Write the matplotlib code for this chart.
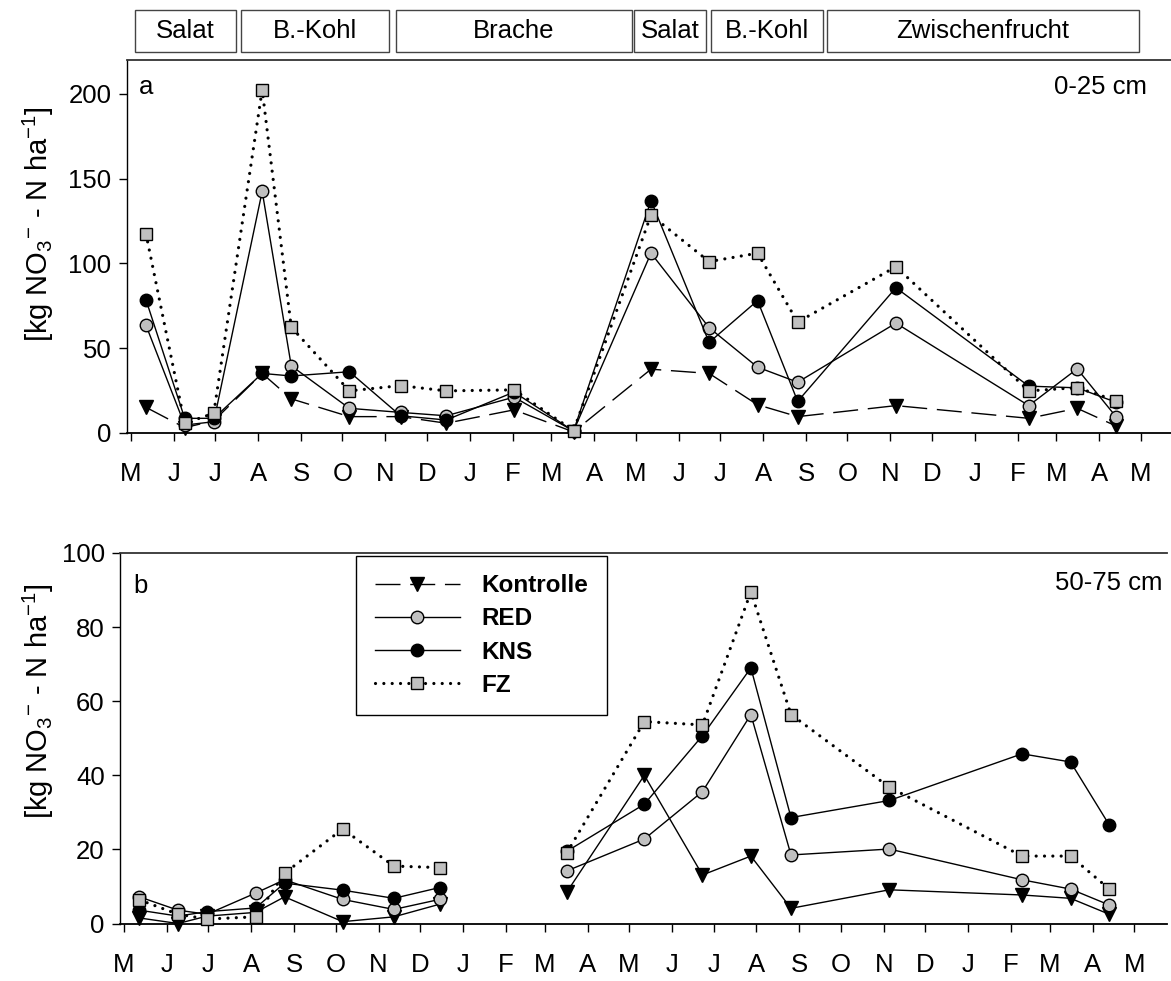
import numpy as np
import matplotlib
matplotlib.use("Agg")
import matplotlib.pyplot as plt
import matplotlib.dates as mdates
from matplotlib.lines import Line2D
from matplotlib.patches import Rectangle
from matplotlib.transforms import blended_transform_factory
import datetime as dt

plt.rcParams['font.family'] = ['Liberation Sans', 'DejaVu Sans']
plt.rcParams['mathtext.fontset'] = 'custom'
plt.rcParams['mathtext.rm'] = 'Liberation Sans'
plt.rcParams['mathtext.it'] = 'Liberation Sans'
plt.rcParams['mathtext.bf'] = 'Liberation Sans:bold'

# ---------------- data ----------------
sample_dates = ["2000-05-12", "2000-06-09", "2000-06-30", "2000-08-04", "2000-08-25",
                "2000-10-06", "2000-11-12", "2000-12-15", "2001-02-02", "2001-03-17",
                "2001-05-12", "2001-06-23", "2001-07-28", "2001-08-26", "2001-11-05",
                "2002-02-09", "2002-03-16", "2002-04-13"]

# Panel a: 0-25 cm
a_kontrolle = [15, 3, 7, 35, 20, 9.5, 9.5, 5.6, 13.5, 0.5, 37.5, 35, 16.5, 9.5, 16, 8.5, 14.4, 4]
a_red       = [63.5, 4.5, 6.5, 142.5, 39.5, 14.4, 12, 10, 21, 1, 106, 62, 38.7, 29.8, 64.7, 16, 37.7, 9.5]
a_kns       = [78.5, 8.5, 8.5, 35, 33.5, 36, 10, 7.5, 24, 1, 137, 53.3, 78, 18.5, 85.6, 27.5, 26.5, 18]
a_fz        = [117.5, 5.5, 11.5, 202.5, 62.3, 24.7, 27.8, 24.7, 25.3, 1.2, 128.5, 101, 106, 65.3, 98, 24.7, 26.6, 19]

# Panel b: 50-75 cm (no sample in Feb of first winter)
nan = np.nan
b_kontrolle = [1.5, 0, 2, 3, 7.2, 0.5, 1.8, 5.2, nan, 8.5, 40, 13.1, 18.2, 4.1, 9.1, 7.7, 6.8, 2.5]
b_red       = [7.2, 3.6, 2.5, 8.2, 11.8, 6.5, 3.8, 6.5, nan, 14.2, 22.8, 35.6, 56.4, 18.5, 20.1, 11.8, 9.3, 5]
b_kns       = [3.6, 2, 3.2, 4.2, 10.9, 9, 6.8, 9.7, nan, 19.5, 32.2, 50.7, 69, 28.6, 33.2, 45.8, 43.6, 26.6]
b_fz        = [6.4, 2.5, 1.2, 1.8, 13.6, 25.5, 15.5, 15.1, nan, 19.1, 54.5, 53.6, 89.5, 56.4, 36.8, 18.2, 18.2, 9.3]

series_names = ["Kontrolle", "RED", "KNS", "FZ"]

crop_names  = ["Salat", "B.-Kohl", "Brache", "Salat", "B.-Kohl", "Zwischenfrucht"]
crop_starts = ["2000-05-04", "2000-07-20", "2000-11-09", "2001-04-30", "2001-06-24", "2001-09-16"]
crop_ends   = ["2000-07-16", "2000-11-04", "2001-04-28", "2001-06-21", "2001-09-13", "2002-04-30"]

month_letters = ["J", "F", "M", "A", "M", "J", "J", "A", "S", "O", "N", "D"]

a_yticks = [0, 50, 100, 150, 200]
b_yticks = [0, 20, 40, 60, 80, 100]

ylabel = r"[kg NO$_3$$^{-}$ - N ha$^{-1}$]"

# ---------------- helpers ----------------
def to_dates(lst):
    return [dt.datetime.strptime(s, "%Y-%m-%d") for s in lst]

dates = to_dates(sample_dates)
xlim = (dt.datetime(2000, 4, 28), dt.datetime(2002, 5, 25))

FS = 18.5
gray = "#c0c0c0"
dash_style = (0, (18, 7))
dot_style = (0, (0.01, 2.6))

def style_axes(ax, ylim, yticks):
    ax.set_xlim(*xlim)
    ax.set_ylim(*ylim)
    ax.set_yticks(yticks)
    ax.xaxis.set_major_locator(mdates.MonthLocator())
    ax.xaxis.set_major_formatter(plt.FuncFormatter(
        lambda v, p: month_letters[mdates.num2date(v).month - 1]))
    ax.tick_params(axis='x', direction='out', length=6, width=1, labelsize=FS, pad=15)
    ax.tick_params(axis='y', direction='out', length=6, width=1, labelsize=FS, pad=5)
    ax.spines['right'].set_visible(False)
    ax.spines['top'].set_linewidth(1.3)
    ax.spines['top'].set_color('#333333')
    ax.spines['left'].set_linewidth(1)
    ax.spines['bottom'].set_linewidth(1.3)
    ax.set_ylabel(ylabel, fontsize=21)

def plot_series(ax, kon, red, kns, fz, kon_ls):
    ax.plot(dates, kon, linestyle=kon_ls, color='black', lw=1, marker='v', ms=10,
            mfc='black', mec='black', clip_on=False, zorder=3)
    ax.plot(dates, red, linestyle='-', color='black', lw=1, marker='o', ms=9,
            mfc=gray, mec='black', mew=1, clip_on=False, zorder=4)
    ax.plot(dates, kns, linestyle='-', color='black', lw=1, marker='o', ms=9,
            mfc='black', mec='black', clip_on=False, zorder=5)
    ax.plot(dates, fz, linestyle=dot_style, color='black', lw=2.3, dash_capstyle='round',
            marker='s', ms=8.5, mfc=gray, mec='black', mew=1, clip_on=False, zorder=6)

# ---------------- figure ----------------
fig = plt.figure(figsize=(11.71, 9.81), dpi=100)
ax1 = fig.add_axes([0.1081, 0.5589, 0.8945, 0.3799])
ax2 = fig.add_axes([0.1024, 0.0586, 0.8945, 0.3777])

plot_series(ax1, a_kontrolle, a_red, a_kns, a_fz, dash_style)
plot_series(ax2, b_kontrolle, b_red, b_kns, b_fz, '-')

style_axes(ax1, (0, 220), a_yticks)
style_axes(ax2, (0, 100), b_yticks)
ax1.yaxis.set_label_coords(-0.0674, 0.56)
ax2.yaxis.set_label_coords(-0.061, 0.60)

ax1.text(0.0118, 0.9276, "a", transform=ax1.transAxes, fontsize=FS, va='center', ha='left')
ax1.text(0.9742, 0.9276, "0-25 cm", transform=ax1.transAxes, fontsize=FS, va='center', ha='right')
ax2.text(0.0125, 0.911, "b", transform=ax2.transAxes, fontsize=FS, va='center', ha='left')
ax2.text(0.995, 0.919, "50-75 cm", transform=ax2.transAxes, fontsize=FS, va='center', ha='right')

# crop period boxes above panel a
trans = blended_transform_factory(ax1.transData, fig.transFigure)
y0 = (981 - 52) / 981
h = 42 / 981
for name, s, e in zip(crop_names, to_dates(crop_starts), to_dates(crop_ends)):
    x0 = mdates.date2num(s)
    x1 = mdates.date2num(e)
    fig.patches.append(Rectangle((x0, y0), x1 - x0, h, transform=trans, fill=False,
                                 edgecolor='#444444', lw=1))
    t = fig.text(0, 0, name, fontsize=FS, ha='center', va='center')
    t.set_transform(trans)
    t.set_position(((x0 + x1) / 2, y0 + h / 2))

# legend in panel b
handles = [
    Line2D([], [], linestyle=dash_style, color='black', lw=1, marker='v', ms=10, mfc='black', mec='black'),
    Line2D([], [], linestyle='-', color='black', lw=1, marker='o', ms=9, mfc=gray, mec='black'),
    Line2D([], [], linestyle='-', color='black', lw=1, marker='o', ms=9, mfc='black', mec='black'),
    Line2D([], [], linestyle=dot_style, color='black', lw=2.3, dash_capstyle='round',
           marker='s', ms=8.5, mfc=gray, mec='black'),
]
leg = ax2.legend(handles, series_names, loc='upper left', bbox_to_anchor=(0.2258, 0.992),
                 borderaxespad=0, frameon=True, fancybox=False, framealpha=1,
                 edgecolor='black', prop={'weight': 'bold', 'size': 17.5},
                 handlelength=3.5, handletextpad=0.9, labelspacing=0.42, borderpad=0.75,
                 numpoints=1)
leg.get_frame().set_linewidth(1)

fig.savefig("out.png", dpi=100)
